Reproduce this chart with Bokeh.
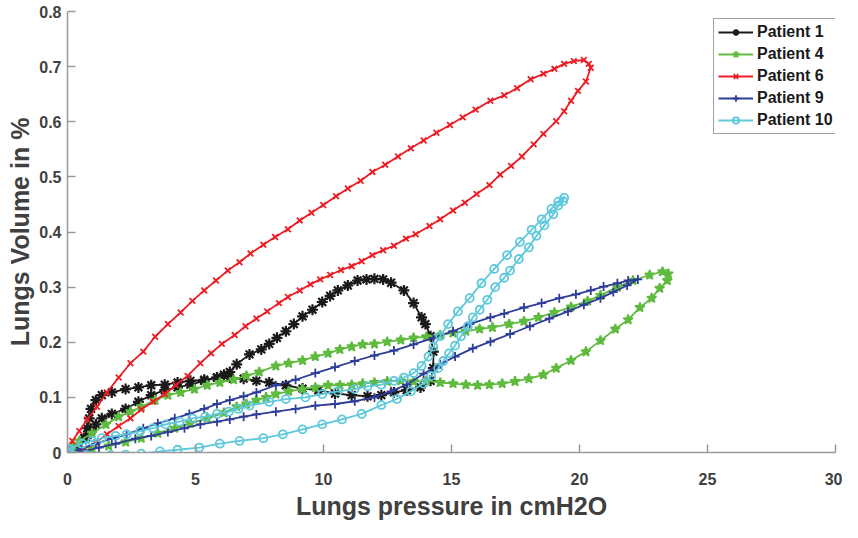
from bokeh.plotting import figure
from bokeh.models import FixedTicker, Range1d
from bokeh.embed import file_html
from bokeh.resources import INLINE

# ---------------- data ----------------
x_ticks = [0, 5, 10, 15, 20, 25, 30]
y_ticks = [0, 0.1, 0.2, 0.3, 0.4, 0.5, 0.6, 0.7, 0.8]
y_tick_labels = ["0", "0.1", "0.2", "0.3", "0.4", "0.5", "0.6", "0.7", "0.8"]

names = ["Patient 1", "Patient 4", "Patient 6", "Patient 9", "Patient 10"]

p1_pressure = [0.00, 0.35, 0.65, 0.77, 0.85, 0.92, 1.11, 1.34, 1.73, 2.27,
               2.77, 3.27, 3.80, 4.30, 4.80, 5.34, 5.84, 6.34, 6.88, 7.38,
               7.88, 8.53, 9.18, 9.80, 10.45, 11.10, 11.72, 12.26, 12.75, 13.25,
               13.79, 14.18, 14.29, 14.29, 14.18, 13.98, 13.83, 13.52, 13.14, 12.64,
               12.33, 11.99, 11.68, 11.33, 10.95, 10.56, 10.26, 9.95, 9.57, 9.18,
               8.84, 8.53, 8.18, 7.88, 7.57, 7.11, 6.61, 6.34, 6.11, 5.84,
               5.34, 4.80, 4.30, 3.80, 3.27, 2.77, 2.27, 1.73, 1.34, 1.11,
               0.92, 0.73, 0.35, 0.00]
p1_volume = [0.000, 0.007, 0.026, 0.044, 0.062, 0.079, 0.095, 0.104, 0.109, 0.115,
             0.118, 0.122, 0.123, 0.127, 0.130, 0.132, 0.136, 0.136, 0.134, 0.130,
             0.127, 0.122, 0.116, 0.113, 0.107, 0.104, 0.102, 0.104, 0.109, 0.113,
             0.118, 0.130, 0.153, 0.183, 0.211, 0.233, 0.245, 0.271, 0.294, 0.308,
             0.314, 0.315, 0.314, 0.312, 0.303, 0.294, 0.284, 0.273, 0.259, 0.247,
             0.233, 0.220, 0.208, 0.197, 0.187, 0.178, 0.160, 0.146, 0.141, 0.136,
             0.130, 0.123, 0.118, 0.113, 0.104, 0.092, 0.079, 0.070, 0.062, 0.051,
             0.039, 0.026, 0.007, 0.000]

p4_pressure = [0.00, 0.23, 0.46, 0.96, 1.50, 2.00, 2.46, 2.88, 3.42, 3.92,
               4.42, 4.96, 5.46, 5.95, 6.49, 6.99, 7.49, 8.14, 8.64, 9.18,
               9.68, 10.18, 10.64, 11.10, 11.53, 11.99, 12.49, 13.02, 13.52, 14.02,
               14.56, 15.06, 15.56, 16.10, 16.60, 17.25, 17.83, 18.40, 19.02, 19.67,
               20.32, 20.82, 21.48, 22.09, 22.74, 23.24, 23.47, 23.43, 23.13, 22.82,
               22.36, 21.90, 21.40, 20.82, 20.25, 19.67, 19.09, 18.59, 18.02, 17.48,
               16.98, 16.48, 16.02, 15.56, 15.06, 14.56, 14.02, 13.52, 13.02, 12.49,
               11.99, 11.53, 11.10, 10.64, 10.18, 9.68, 9.18, 8.64, 8.14, 7.76,
               7.38, 6.99, 6.61, 6.11, 5.46, 4.80, 4.19, 3.53, 2.88, 2.27,
               1.61, 0.96, 0.46, 0.00]
p4_volume = [0.000, 0.011, 0.021, 0.035, 0.051, 0.065, 0.074, 0.083, 0.095, 0.104,
             0.109, 0.115, 0.122, 0.127, 0.132, 0.139, 0.146, 0.157, 0.162, 0.167,
             0.174, 0.180, 0.187, 0.192, 0.196, 0.197, 0.201, 0.204, 0.208, 0.210,
             0.213, 0.217, 0.220, 0.224, 0.227, 0.233, 0.238, 0.245, 0.254, 0.264,
             0.275, 0.285, 0.300, 0.312, 0.322, 0.328, 0.324, 0.312, 0.298, 0.280,
             0.263, 0.241, 0.224, 0.203, 0.183, 0.167, 0.153, 0.141, 0.134, 0.129,
             0.125, 0.123, 0.122, 0.123, 0.125, 0.127, 0.130, 0.129, 0.130, 0.129,
             0.127, 0.125, 0.123, 0.122, 0.122, 0.118, 0.115, 0.111, 0.106, 0.100,
             0.095, 0.088, 0.083, 0.072, 0.062, 0.053, 0.044, 0.035, 0.026, 0.019,
             0.012, 0.007, 0.002, 0.000]

p6_pressure = [0.00, 0.19, 0.46, 0.77, 1.15, 1.54, 2.00, 2.46, 2.96, 3.42,
               3.92, 4.42, 4.88, 5.34, 5.80, 6.26, 6.72, 7.15, 7.65, 8.11,
               8.61, 9.07, 9.53, 9.99, 10.49, 10.95, 11.45, 11.91, 12.41, 12.91,
               13.41, 13.91, 14.41, 14.94, 15.44, 15.94, 16.52, 17.06, 17.56, 18.09,
               18.59, 19.02, 19.40, 19.78, 20.17, 20.36, 20.44, 20.25, 19.94, 19.67,
               19.40, 19.09, 18.59, 18.21, 17.75, 17.33, 16.90, 16.48, 15.98, 15.52,
               15.06, 14.56, 14.14, 13.60, 13.22, 12.75, 12.33, 11.91, 11.49, 11.10,
               10.68, 10.26, 9.87, 9.49, 9.07, 8.61, 8.26, 7.80, 7.38, 6.95,
               6.53, 6.03, 5.61, 5.19, 4.69, 4.23, 3.80, 3.34, 2.88, 2.46,
               2.00, 1.54, 1.11, 0.65, 0.19, 0.00]
p6_volume = [0.000, 0.021, 0.039, 0.060, 0.083, 0.109, 0.136, 0.162, 0.183, 0.210,
             0.233, 0.254, 0.275, 0.294, 0.312, 0.330, 0.345, 0.361, 0.377, 0.391,
             0.405, 0.421, 0.435, 0.449, 0.465, 0.479, 0.493, 0.509, 0.522, 0.537,
             0.552, 0.566, 0.580, 0.594, 0.608, 0.622, 0.638, 0.648, 0.661, 0.677,
             0.687, 0.696, 0.705, 0.710, 0.712, 0.705, 0.698, 0.673, 0.656, 0.638,
             0.619, 0.601, 0.578, 0.559, 0.537, 0.520, 0.504, 0.485, 0.469, 0.453,
             0.439, 0.423, 0.411, 0.396, 0.388, 0.375, 0.367, 0.358, 0.347, 0.338,
             0.331, 0.322, 0.314, 0.305, 0.294, 0.282, 0.271, 0.256, 0.243, 0.229,
             0.213, 0.197, 0.180, 0.162, 0.139, 0.122, 0.106, 0.092, 0.078, 0.062,
             0.048, 0.033, 0.018, 0.007, -0.005, 0.000]

p9_pressure = [0.08, 0.54, 1.11, 1.73, 2.31, 2.96, 3.53, 4.19, 4.76, 5.34,
               5.84, 6.34, 6.88, 7.38, 8.14, 8.91, 9.68, 10.45, 11.22, 11.99,
               12.75, 13.52, 14.29, 15.06, 15.71, 16.52, 17.06, 17.83, 18.52, 19.21,
               19.86, 20.44, 20.94, 21.48, 21.90, 22.28, 21.86, 21.32, 20.82, 20.17,
               19.55, 18.82, 18.06, 17.29, 16.52, 15.83, 15.14, 14.56, 13.91, 13.25,
               12.64, 11.99, 11.22, 10.45, 9.68, 8.91, 8.14, 7.38, 6.88, 6.34,
               5.84, 5.19, 4.57, 3.92, 3.27, 2.65, 1.88, 1.23, 0.46]
p9_volume = [0.000, 0.007, 0.016, 0.025, 0.033, 0.044, 0.053, 0.062, 0.070, 0.079,
             0.088, 0.095, 0.102, 0.109, 0.122, 0.132, 0.144, 0.155, 0.166, 0.176,
             0.185, 0.196, 0.208, 0.220, 0.233, 0.245, 0.252, 0.263, 0.271, 0.280,
             0.287, 0.294, 0.301, 0.307, 0.312, 0.314, 0.303, 0.291, 0.280, 0.268,
             0.256, 0.243, 0.229, 0.215, 0.201, 0.189, 0.174, 0.160, 0.143, 0.123,
             0.111, 0.100, 0.093, 0.088, 0.085, 0.079, 0.074, 0.069, 0.065, 0.060,
             0.056, 0.051, 0.044, 0.037, 0.030, 0.025, 0.016, 0.009, 0.000]

p10_pressure = [0.00, 0.08, 0.58, 0.96, 1.34, 1.88, 2.31, 2.84, 3.34, 3.84,
                4.38, 4.88, 5.38, 5.84, 6.30, 6.68, 7.11, 7.88, 8.53, 9.30,
                9.95, 10.56, 11.22, 11.72, 12.26, 12.75, 13.14, 13.52, 13.83, 14.10,
                14.29, 14.56, 14.87, 15.25, 15.71, 16.17, 16.67, 17.17, 17.67, 18.13,
                18.52, 18.90, 19.17, 19.40, 19.36, 19.17, 18.98, 18.63, 18.32, 18.02,
                17.63, 17.29, 17.06, 16.71, 16.40, 16.10, 15.83, 15.64, 15.37, 15.14,
                14.91, 14.68, 14.48, 14.21, 13.91, 13.41, 12.87, 12.26, 11.49, 10.72,
                9.95, 9.18, 8.41, 7.65, 6.72, 5.95, 5.15, 4.30, 3.61, 2.88,
                2.27, 1.69, 1.15, 0.73, 0.08]
p10_volume = [0.000, 0.007, 0.016, 0.021, 0.026, 0.030, 0.033, 0.039, 0.044, 0.051,
              0.056, 0.062, 0.065, 0.070, 0.074, 0.079, 0.085, 0.092, 0.097, 0.100,
              0.106, 0.111, 0.115, 0.120, 0.123, 0.130, 0.136, 0.144, 0.157, 0.174,
              0.192, 0.211, 0.233, 0.256, 0.280, 0.307, 0.333, 0.358, 0.382, 0.404,
              0.423, 0.442, 0.455, 0.462, 0.456, 0.448, 0.432, 0.412, 0.393, 0.372,
              0.351, 0.330, 0.317, 0.300, 0.277, 0.259, 0.245, 0.229, 0.211, 0.194,
              0.180, 0.166, 0.153, 0.139, 0.125, 0.111, 0.097, 0.086, 0.070, 0.060,
              0.051, 0.042, 0.033, 0.026, 0.021, 0.016, 0.009, 0.005, 0.002, -0.002,
              -0.004, -0.005, -0.007, -0.005, 0.004]

# ---------------- styling ----------------
colors = ["#1a1a1a", "#5fbb3f", "#ed1c24", "#2e3d98", "#5ec8dc"]
markers = ["asterisk", "star", "x", "cross", "circle"]
sizes = [11, 10, 8, 9, 8]
series = [(p1_pressure, p1_volume), (p4_pressure, p4_volume), (p6_pressure, p6_volume),
          (p9_pressure, p9_volume), (p10_pressure, p10_volume)]

FONT = "Liberation Sans"
AX_GREY = "#9a9a9a"
TXT_GREY = "#404040"

p = figure(width=842, height=522, output_backend="svg", toolbar_location=None,
           x_range=Range1d(0, 30), y_range=Range1d(0, 0.8),
           min_border_left=67, min_border_right=7, min_border_top=11, min_border_bottom=66)
p.outline_line_color = None
p.xgrid.visible = False
p.ygrid.visible = False
p.background_fill_color = "white"
p.border_fill_color = "white"

for (xs, ys), c, m, s, name in zip(series, colors, markers, sizes, names):
    p.line(xs, ys, line_color=c, line_width=1.8, legend_label=name)
    fill = c if m == "star" else None
    lw = 2.2 if m == "asterisk" else 1.8
    p.scatter(xs, ys, marker=m, size=s, line_color=c, fill_color=fill,
              line_width=lw, legend_label=name)

# axes
p.xaxis.ticker = FixedTicker(ticks=x_ticks)
p.yaxis.ticker = FixedTicker(ticks=y_ticks)
p.yaxis.major_label_overrides = {t: l for t, l in zip(y_ticks, y_tick_labels)}
for ax in (p.xaxis[0], p.yaxis[0]):
    ax.axis_line_color = AX_GREY
    ax.axis_line_width = 1.5
    ax.major_tick_line_color = AX_GREY
    ax.major_tick_line_width = 1.5
    ax.major_tick_in = 8
    ax.major_tick_out = 0
    ax.minor_tick_line_color = None
    ax.major_label_text_font = FONT
    ax.major_label_text_font_style = "bold"
    ax.major_label_text_font_size = "16px"
    ax.major_label_text_color = TXT_GREY
    ax.axis_label_text_font = FONT
    ax.axis_label_text_font_style = "bold"
    ax.axis_label_text_font_size = "25px"
    ax.axis_label_text_color = TXT_GREY

p.xaxis.axis_label = "Lungs pressure in cmH2O"
p.yaxis.axis_label = "Lungs Volume in %"
p.xaxis.major_label_standoff = 20
p.xaxis.axis_label_standoff = 4
p.yaxis.major_label_standoff = 6
p.yaxis.axis_label_standoff = 2

# legend
lg = p.legend[0]
lg.location = (646, 318)
lg.margin = 0
lg.label_text_font = FONT
lg.label_text_font_style = "bold"
lg.label_text_font_size = "16px"
lg.label_text_color = "#1a1a1a"
lg.glyph_width = 35
lg.glyph_height = 16
lg.label_height = 16
lg.label_standoff = 4
lg.spacing = 4
lg.padding = 4
lg.border_line_color = "#444444"
lg.border_line_width = 1
lg.background_fill_color = "white"
lg.background_fill_alpha = 1.0

open("out.html", "w").write(file_html(p, INLINE))
